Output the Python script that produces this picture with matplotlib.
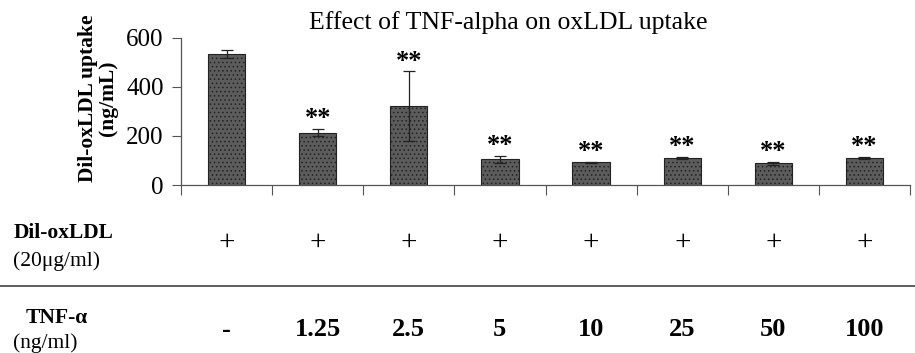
import matplotlib
matplotlib.use("Agg")
import matplotlib.pyplot as plt
import matplotlib.transforms as mtransforms

plt.rcParams['font.family'] = ['Liberation Serif', 'DejaVu Serif']
plt.rcParams['hatch.color'] = '#8a8a8a'
plt.rcParams['hatch.linewidth'] = 0.6

tnf_labels = ['-', '1.25', '2.5', '5', '10', '25', '50', '100']
oxldl_labels = ['+'] * 8
uptake = [535, 213, 322, 104, 92, 110, 88, 110]
errors = [16, 15, 141, 16, 3, 5, 6, 4]
signif = ['', '**', '**', '**', '**', '**', '**', '**']
yticks = [0, 200, 400, 600]

fig = plt.figure(figsize=(9.15, 3.53), dpi=100)
ax = fig.add_axes([181/915, 1-185/353, (910-181)/915, (185-37.7)/353])

x = list(range(len(uptake)))
ax.bar(x, uptake, width=0.41, color='#5c5c5c', edgecolor='#222222', linewidth=0.8,
       hatch='....', zorder=2)
ax.errorbar(x, uptake, yerr=errors, fmt='none', ecolor='#222222', elinewidth=0.9,
            capsize=4.5, capthick=0.9, zorder=3)
for xi, v, e, s in zip(x, uptake, errors, signif):
    if s:
        ax.annotate(s, (xi, v + e), xytext=(0, -1), textcoords='offset points',
                    ha='center', va='bottom', fontsize=19, fontweight='bold')

ax.set_xlim(-0.5, len(uptake) - 0.5)
ax.set_ylim(0, 600)
ax.set_yticks(yticks)
ax.set_yticklabels([str(t) for t in yticks], fontsize=18)
ax.set_xticks([i - 0.5 for i in range(len(uptake) + 1)])
ax.set_xticklabels([])
ax.tick_params(axis='x', direction='out', length=7, width=0.8, color='#555555')
ax.tick_params(axis='y', direction='out', length=6.5, width=0.8, color='#555555', pad=6)
for side in ['top', 'right']:
    ax.spines[side].set_visible(False)
for side in ['left', 'bottom']:
    ax.spines[side].set_color('#555555')
    ax.spines[side].set_linewidth(0.9)

fig.text(508/915, 1-23/353, 'Effect of TNF-alpha on oxLDL uptake', fontsize=18.5,
         ha='center', va='center')
fig.text(98/915, 1-98/353, 'Dil-oxLDL uptake\n(ng/mL)', rotation=90, ha='center',
         va='center', fontsize=15.5, fontweight='bold', linespacing=1.0)

trans = mtransforms.blended_transform_factory(ax.transData, fig.transFigure)
for xi, lab in zip(x, oxldl_labels):
    ax.text(xi, 1-243/353, lab, transform=trans, ha='center', va='center', fontsize=21)
for xi, lab in zip(x, tnf_labels):
    ax.text(xi, 1-330/353, lab, transform=trans, ha='center', va='center', fontsize=19,
            fontweight='bold')

fig.text(14/915, 1-233/353, 'Dil-oxLDL', ha='left', va='center', fontsize=15.5, fontweight='bold')
fig.text(13/915, 1-261/353, '(20\u03bcg/ml)', ha='left', va='center', fontsize=15.5)
fig.text(26/915, 1-318/353, 'TNF-\u03b1', ha='left', va='center', fontsize=15.5, fontweight='bold')
fig.text(13/915, 1-343/353, '(ng/ml)', ha='left', va='center', fontsize=15.5)
fig.add_artist(plt.Line2D([0, 1], [1-286/353, 1-286/353], transform=fig.transFigure,
                          color='#444444', linewidth=1.2))

fig.savefig('out.png', dpi=100)
